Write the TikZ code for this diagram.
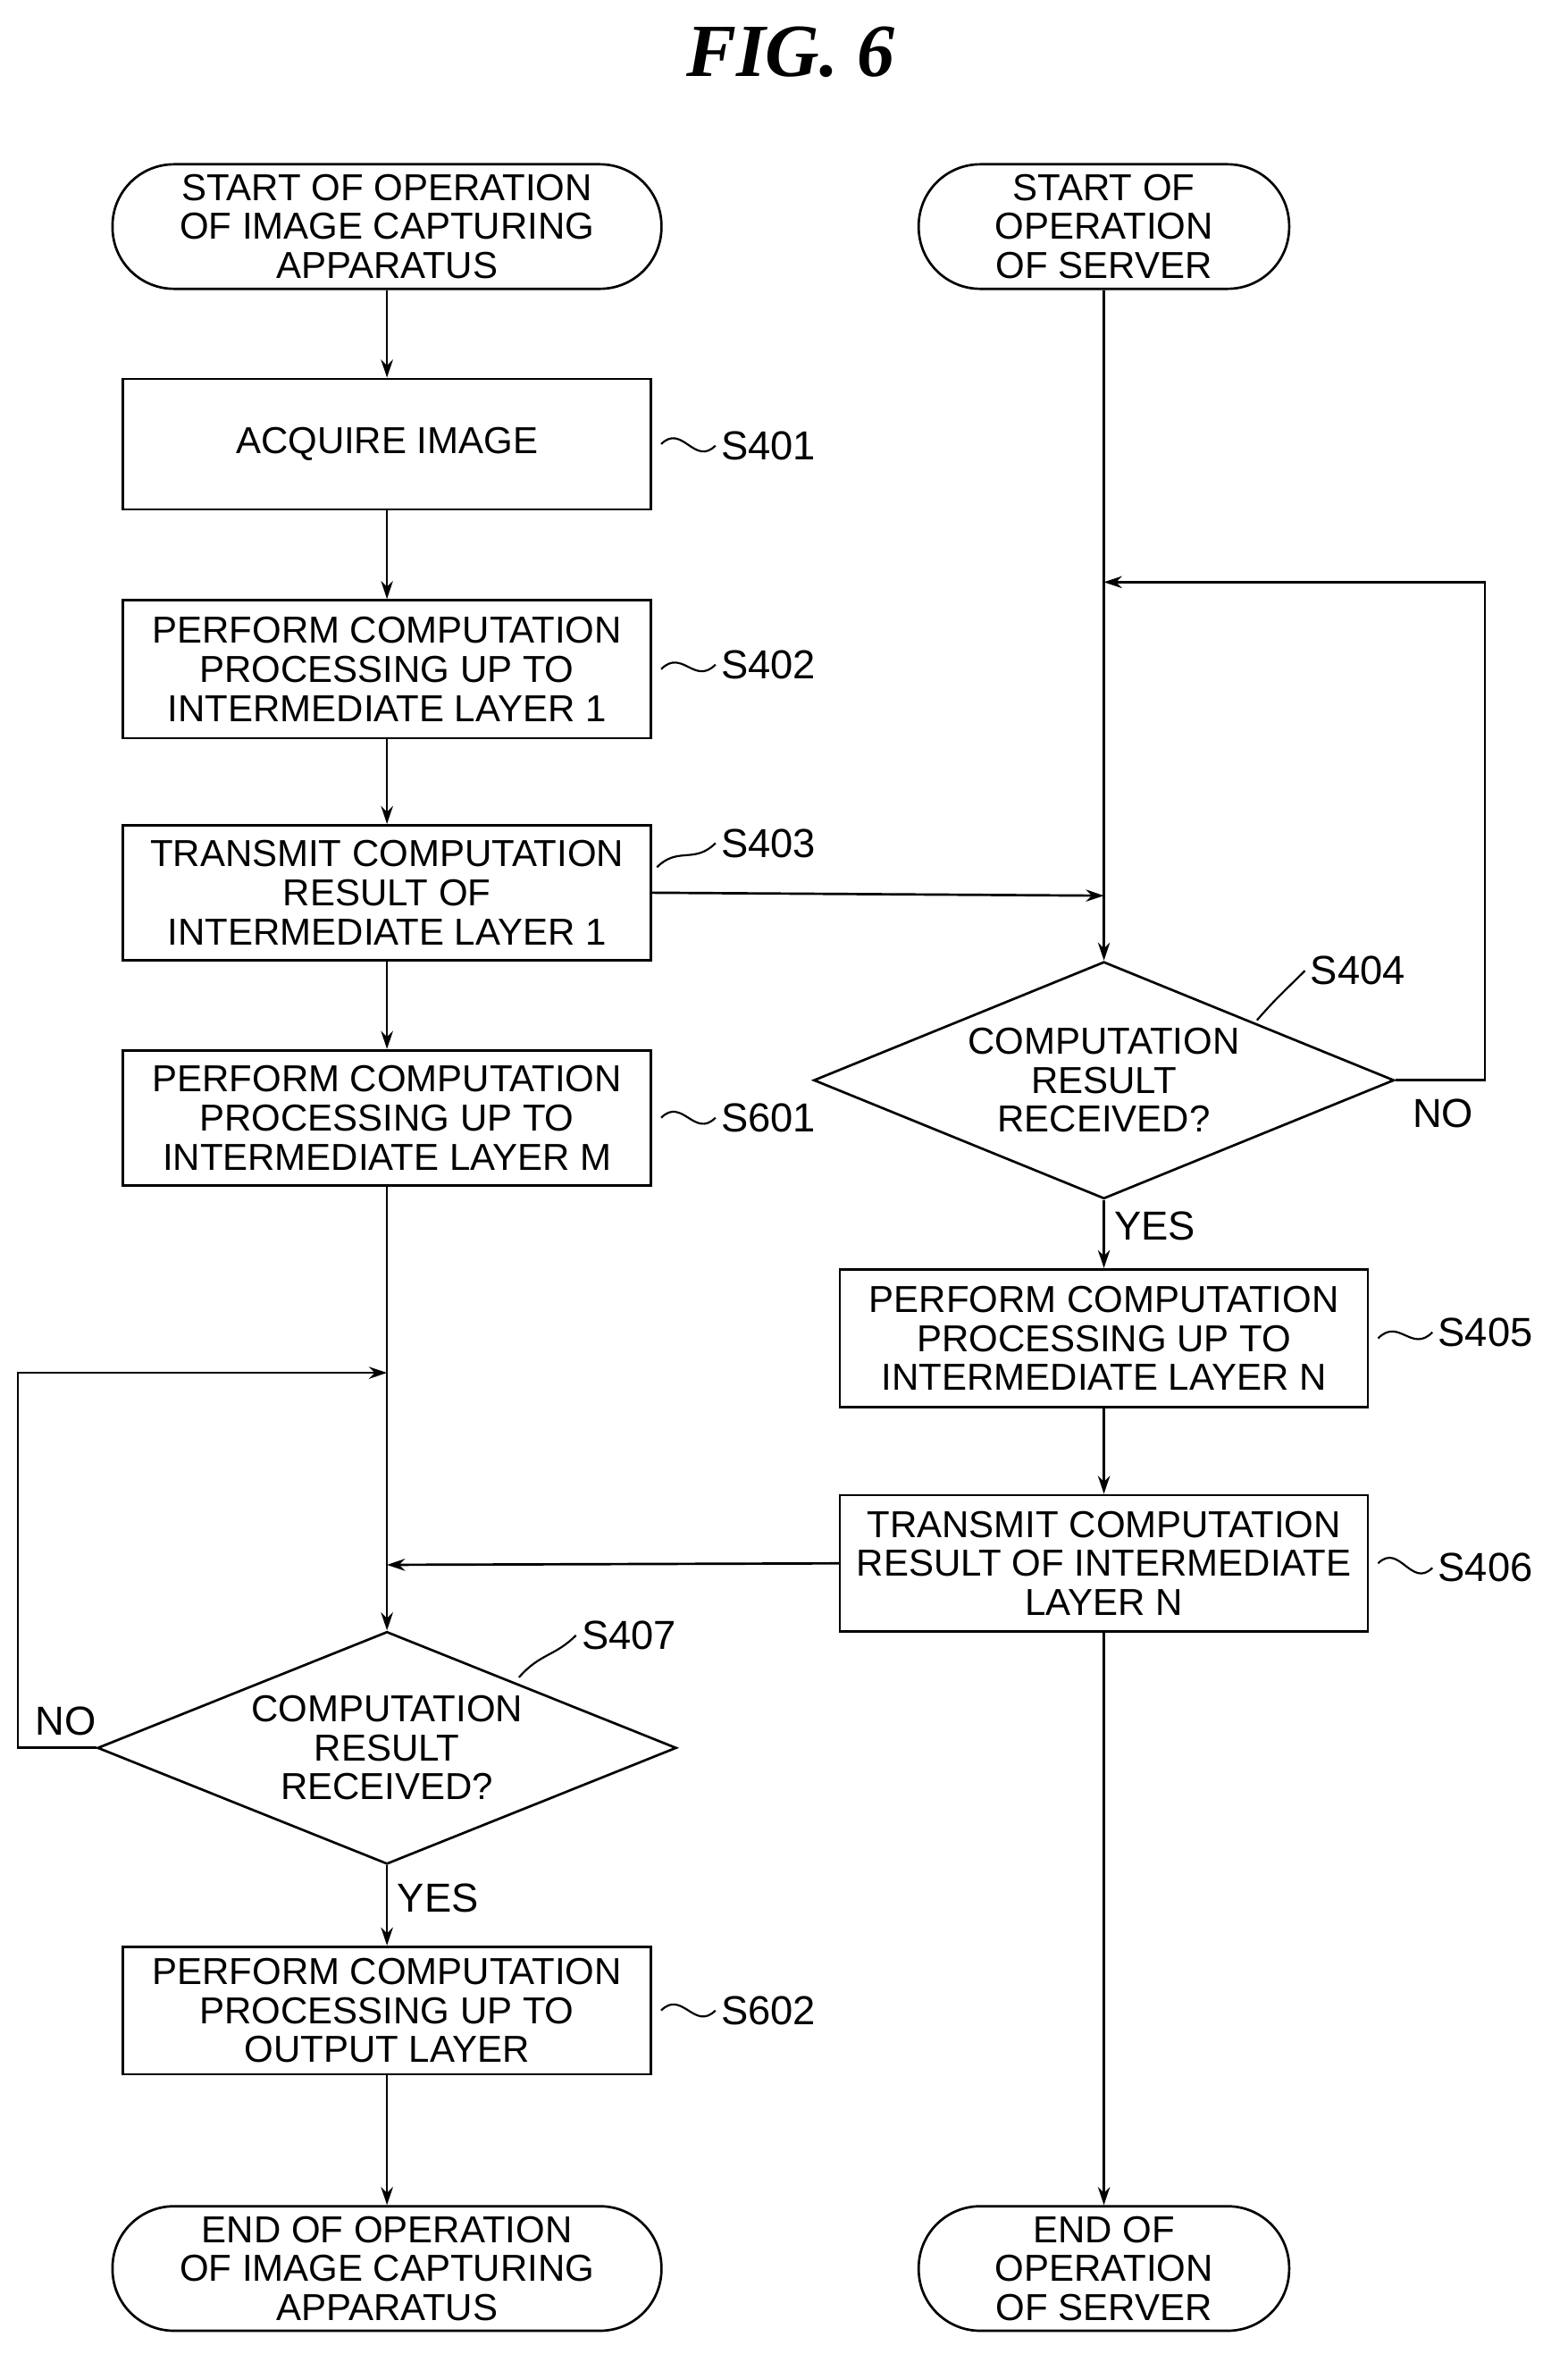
\documentclass[tikz,border=0pt]{standalone}
\usepackage{fontspec}
\setmainfont{Liberation Sans}
\newfontfamily\titlefont{Liberation Serif}
\usetikzlibrary{shapes.geometric,arrows.meta,calc}
\begin{document}
\begin{tikzpicture}[x=1pt,y=-1pt,line width=1.6pt,
  txt/.style={font=\fontsize{25}{26}\selectfont,align=center,inner sep=0pt},
  box/.style={txt,draw,minimum width=352pt,minimum height=90pt},
  term/.style={txt,draw,rounded corners=41pt,minimum height=83pt},
  dia/.style={txt,draw,diamond,aspect=2.45,inner sep=0pt},
  lab/.style={font=\fontsize{27}{27}\selectfont,inner sep=0pt},
  sq/.style={line width=1.3pt},
  arr/.style={-{Stealth[length=12pt,width=8pt]}}]
\useasboundingbox (0,0) rectangle (1045,1569);
\node[font=\titlefont\bfseries\itshape\fontsize{50}{50}\selectfont] (title) at (527,35) {FIG. 6};
\node[term,minimum width=366pt] (st1) at (258,151) {START OF OPERATION\\OF IMAGE CAPTURING\\APPARATUS};
\node[term,minimum width=247pt] (st2) at (736,151) {START OF\\OPERATION\\OF SERVER};
\node[box,minimum height=87pt] (s401) at (258,296) {ACQUIRE IMAGE};
\node[box,minimum height=92pt] (s402) at (258,446) {PERFORM COMPUTATION\\PROCESSING UP TO\\INTERMEDIATE LAYER 1};
\node[box] (s403) at (258,595) {TRANSMIT COMPUTATION\\RESULT OF\\INTERMEDIATE LAYER 1};
\node[box] (s601) at (258,745) {PERFORM COMPUTATION\\PROCESSING UP TO\\INTERMEDIATE LAYER M};
\node[dia,minimum width=387pt,minimum height=158pt] (s404) at (736,720) {COMPUTATION\\RESULT\\RECEIVED?};
\node[box,minimum height=92pt] (s405) at (736,892) {PERFORM COMPUTATION\\PROCESSING UP TO\\INTERMEDIATE LAYER N};
\node[box,minimum height=91pt] (s406) at (736,1042) {TRANSMIT COMPUTATION\\RESULT OF INTERMEDIATE\\LAYER N};
\node[dia,minimum width=386pt,minimum height=155pt] (s407) at (258,1165) {COMPUTATION\\RESULT\\RECEIVED?};
\node[box,minimum height=85pt] (s602) at (258,1340) {PERFORM COMPUTATION\\PROCESSING UP TO\\OUTPUT LAYER};
\node[term,minimum width=366pt] (en1) at (258,1512) {END OF OPERATION\\OF IMAGE CAPTURING\\APPARATUS};
\node[term,minimum width=247pt] (en2) at (736,1512) {END OF\\OPERATION\\OF SERVER};
% step labels
\node[lab,anchor=west] (l401) at (480,297) {S401};
\node[lab,anchor=west] (l402) at (480,443) {S402};
\node[lab,anchor=west] (l403) at (480,562) {S403};
\node[lab,anchor=west] (l601) at (480,745) {S601};
\node[lab,anchor=west] (l404) at (873,647) {S404};
\node[lab,anchor=west] (l405) at (958,888) {S405};
\node[lab,anchor=west] (l406) at (958,1045) {S406};
\node[lab,anchor=west] (l407) at (387,1090) {S407};
\node[lab,anchor=west] (l602) at (480,1340) {S602};
\node[lab] (no1) at (962,742) {NO};
\node[lab] (yes1) at (770,817) {YES};
\node[lab] (no2) at (44,1147) {NO};
\node[lab] (yes2) at (292,1265) {YES};
% squiggles
\foreach \a/\b in {s401/l401,s402/l402,s601/l601,s602/l602,s405/l405,s406/l406}{
  \draw[sq] ($(\a.east)+(6,0)$) .. controls +(14,-14) and +(-14,14) .. ($(\b.west)+(-3,0)$);}
\coordinate (q403) at (438,578);
\draw[sq] (q403) .. controls +(14,-14) and +(-14,14) .. ($(l403.west)+(-3,0)$);
\coordinate (q404) at (838,680);
\draw[sq] (q404) .. controls +(14,-16) and +(-14,14) .. ($(l404.west)+(-3,0)$);
\coordinate (q407) at (346,1118);
\draw[sq] (q407) .. controls +(14,-16) and +(-14,14) .. ($(l407.west)+(-3,0)$);
% left column
\draw[arr] (st1) -- (s401);
\draw[arr] (s401) -- (s402);
\draw[arr] (s402) -- (s403);
\draw[arr] (s403) -- (s601);
\draw[arr] (s601.south) -- (s407.north);
\coordinate (c1) at (12,1165);
\coordinate (c2) at (12,915);
\coordinate (c3) at (258,915);
\draw[arr] (s407.west) -- (c1) -- (c2) -- (c3);
\coordinate (c4) at (258,1043);
\draw[arr] (s406.west) -- (c4);
\draw[arr] (s407.south) -- (s602);
\draw[arr] (s602) -- (en1);
% right column
\draw[arr] (st2.south) -- (s404.north);
\coordinate (d1) at (990,720);
\coordinate (d2) at (990,388);
\coordinate (d3) at (736,388);
\draw[arr] (s404.east) -- (d1) -- (d2) -- (d3);
\coordinate (d4) at (736,597);
\draw[arr] (s403.east) -- (d4);
\draw[arr] (s404.south) -- (s405);
\draw[arr] (s405) -- (s406);
\draw[arr] (s406) -- (en2);
\end{tikzpicture}
\end{document}
